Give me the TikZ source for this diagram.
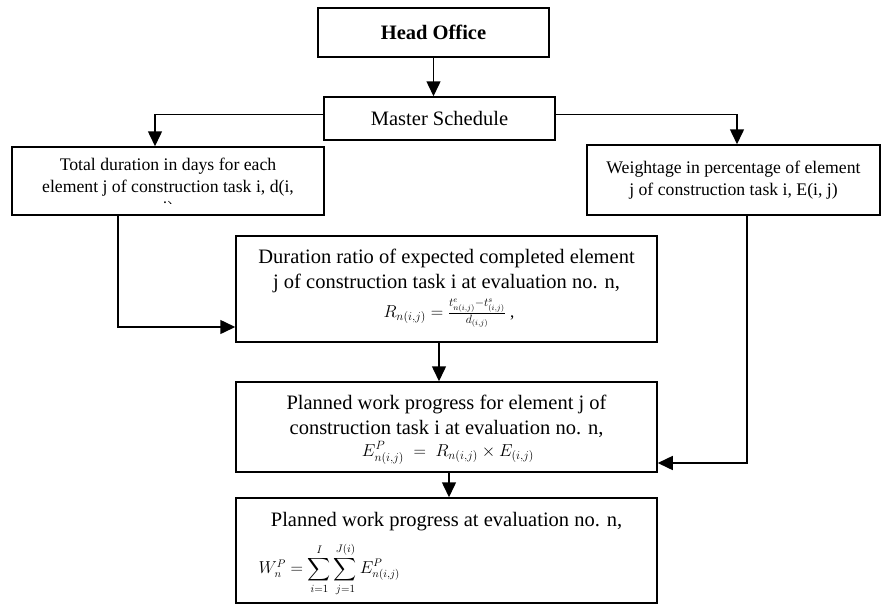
\documentclass[tikz,border=0pt]{standalone}
\usepackage{amsmath}
\usepackage{amssymb}
\usepackage{fontspec}
\setmainfont{Liberation Serif}
\usetikzlibrary{arrows.meta}

\tikzset{
  box/.style={draw, line width=1.5pt, inner sep=0pt},
  arr/.style={line width=1.5pt, -{Triangle[length=15pt,width=14pt]}},
  big/.style={font=\fontsize{20.5}{25}\selectfont, align=center},
  small/.style={font=\fontsize{17.7}{21.5}\selectfont, align=center}
}

\begin{document}
\begin{tikzpicture}[x=1pt, y=-1pt]
\useasboundingbox (0,0) rectangle (882,605);

% Top boxes
\node[box, big, minimum width=231pt, minimum height=49pt] (head) at (433.5,32.5) {\textbf{Head Office}};
\node[box, big, minimum width=231pt, minimum height=43pt] (master) at (439.5,118.5) {Master Schedule};

% Input boxes
\node[box, minimum width=312pt, minimum height=68pt] (total) at (168,181) {};
\begin{scope}
\clip (total.north west) rectangle ([yshift=12pt]total.south east);
\node[small] (totaltxt) at (168,188) {Total duration in days for each\\ element j of construction task i, d(i,\\ j)};
\end{scope}
\node[box, small, minimum width=293pt, minimum height=70pt] (weight) at (733.5,180)
  {Weightage in percentage of element\\ j of construction task i, E(i, j)};

% Calculation boxes
\node[box, minimum width=421pt, minimum height=106pt] (ratio) at (446.5,289) {};
\node[big] (ratiotxt) at (446.5,270.5) {Duration ratio of expected completed element\\ j of construction task i at evaluation no. n,};
\node[font=\fontsize{17}{19}\selectfont] (ratioeq) at (449,313)
  {$R_{n(i,j)} = \frac{t^{e}_{n(i,j)} - t^{s}_{(i,j)}}{d_{(i,j)}}$\ ,};
\node[box, minimum width=421pt, minimum height=90pt] (planned) at (446.5,427) {};
\node[big] (plannedtxt) at (446.5,416.5) {Planned work progress for element j of\\ construction task i at evaluation no. n,};
\node[font=\fontsize{17}{19}\selectfont] (plannedeq) at (448,453)
  {$E^{P}_{n(i,j)} \;=\; R_{n(i,j)} \times E_{(i,j)}$};
\node[box, minimum width=421pt, minimum height=105pt] (progress) at (446.5,550.5) {};
\node[big] (progtxt) at (446.5,522) {Planned work progress at evaluation no. n,};
\node[anchor=west, font=\fontsize{16}{18}\selectfont] (progeq) at (255,569)
  {$W^{P}_{n} = \displaystyle\sum_{i=1}^{I}\sum_{j=1}^{J(i)} E^{P}_{n(i,j)}$};

% Connectors
\draw[arr] (head.south) -- (head.south |- master.north);
\draw[arr] ([yshift=4pt]master.west) -| ([xshift=-13pt]total.north);
\draw[arr] ([yshift=4pt]master.east) -| ([xshift=3.5pt]weight.north);
\draw[arr] ([xshift=-50pt]total.south) |- ([yshift=-38pt]ratio.west);
\draw[arr] ([xshift=13.5pt]weight.south) |- ([yshift=-36pt]planned.east);
\draw[arr] ([xshift=-7.5pt]ratio.south) -- ([xshift=-7.5pt]planned.north);
\draw[arr] ([xshift=2.5pt]planned.south) -- ([xshift=2.5pt]progress.north);
\end{tikzpicture}
\end{document}
